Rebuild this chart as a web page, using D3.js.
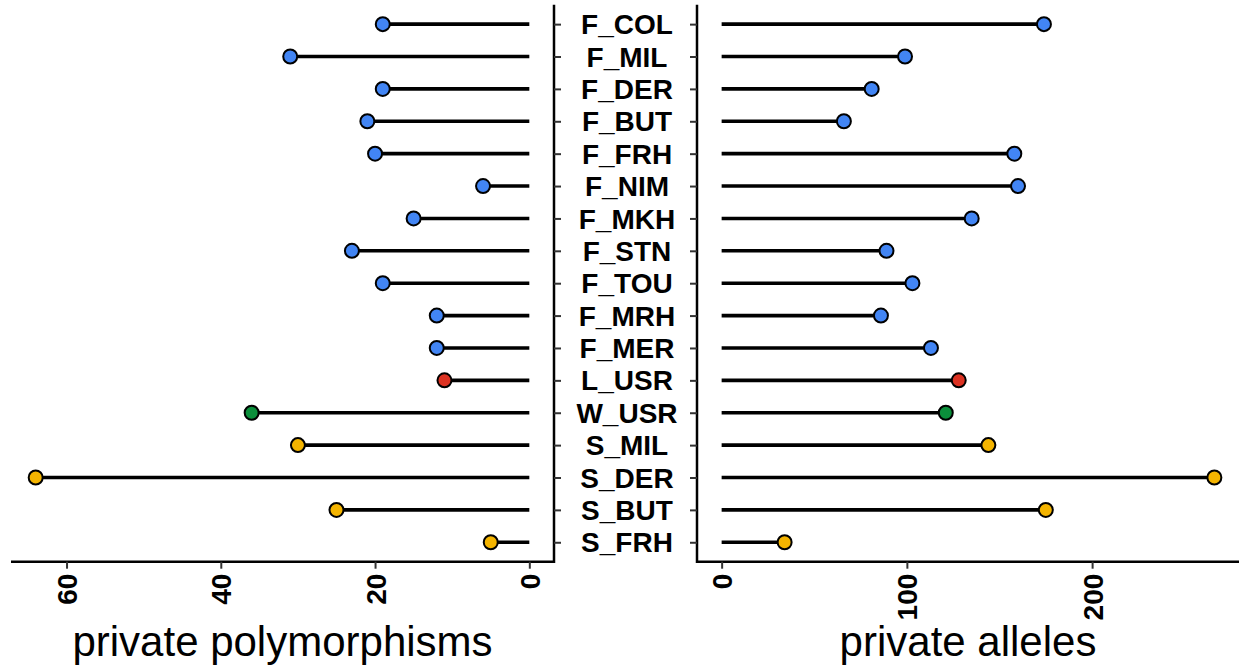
<!DOCTYPE html>
<html>
<head>
<meta charset="utf-8">
<script src="https://cdn.jsdelivr.net/npm/d3@7"></script>
<style>
  body { margin: 0; background: #fff; }
  text { font-family: "Liberation Sans", Arial, sans-serif; }
</style>
</head>
<body>
<div id="chart"></div>
<script>
// populations, top to bottom
var populations = ["F_COL", "F_MIL", "F_DER", "F_BUT", "F_FRH", "F_NIM", "F_MKH", "F_STN", "F_TOU",
  "F_MRH", "F_MER", "L_USR", "W_USR", "S_MIL", "S_DER", "S_BUT", "S_FRH"];
var groups = ["F", "F", "F", "F", "F", "F", "F", "F", "F", "F", "F", "L", "W", "S", "S", "S", "S"];
var polymorphisms = [19, 31, 19, 21, 20, 6, 15, 23, 19, 12, 12, 11, 36, 30, 64, 25, 5];
var alleles = [174, 99, 81, 66, 158, 160, 135, 89, 103, 86, 113, 128, 121, 144, 266, 175, 34];
var polyTicks = [0, 20, 40, 60];
var alleleTicks = [0, 100, 200];

var groupColor = { F: "#4285f4", L: "#dc3222", W: "#0b8f3b", S: "#f4b400" };

var svgWidth = 1239;
var svgHeight = 665;

var svg = d3.select("#chart")
  .append("svg")
  .attr("width", svgWidth)
  .attr("height", svgHeight);

var data = populations.map(function (p, i) {
  return { pop: p, group: groups[i], poly: polymorphisms[i], alle: alleles[i] };
});

// panel geometry
var panelTop = 4.7, panelBottom = 561.7;
var leftPanel = { x0: 11, x1: 554 };
var rightPanel = { x0: 697, x1: 1239 };

// discrete y with ggplot-like 0.6 expansion
var n = populations.length;
var step = (panelBottom - panelTop) / (n - 1 + 1.2);
var y = d3.scalePoint()
  .domain(populations)
  .range([panelTop + 0.6 * step, panelBottom - 0.6 * step]);

// x scales with 5% expansion
var polyMax = d3.max(polymorphisms);
var xLeft = d3.scaleLinear()
  .domain([-polyMax * 0.05, polyMax * 1.05])
  .range([leftPanel.x1, leftPanel.x0]);

var alleMax = d3.max(alleles);
var xRight = d3.scaleLinear()
  .domain([-alleMax * 0.05, alleMax * 1.05])
  .range([rightPanel.x0, rightPanel.x1]);

function drawPanel(xs, key, panel, ticks, side, title) {
  var g = svg.append("g");

  // lollipop stems
  g.selectAll("line.stem")
    .data(data)
    .enter()
    .append("line")
    .attr("class", "stem")
    .attr("x1", xs(0))
    .attr("x2", d => xs(d[key]))
    .attr("y1", d => y(d.pop))
    .attr("y2", d => y(d.pop))
    .attr("stroke", "#000")
    .attr("stroke-width", 3.6);

  // points
  g.selectAll("circle")
    .data(data)
    .enter()
    .append("circle")
    .attr("cx", d => xs(d[key]))
    .attr("cy", d => y(d.pop))
    .attr("r", 7)
    .attr("fill", d => groupColor[d.group])
    .attr("stroke", "#000")
    .attr("stroke-width", 2);

  // bottom axis
  var bottomAxis = d3.axisBottom(xs)
    .tickValues(ticks)
    .tickSize(7)
    .tickSizeOuter(0);

  var ax = g.append("g")
    .attr("transform", `translate(0, ${panelBottom})`)
    .call(bottomAxis);
  ax.select(".domain")
    .attr("d", `M${panel.x0},0H${panel.x1}`)
    .attr("stroke", "#000")
    .attr("stroke-width", 2.5);
  ax.selectAll(".tick line").attr("stroke", "#333").attr("stroke-width", 2);
  ax.selectAll(".tick text")
    .attr("transform", "rotate(-90)")
    .attr("x", -12)
    .attr("y", 0)
    .attr("dy", "0.36em")
    .style("text-anchor", "end")
    .style("font-size", "28px")
    .style("font-weight", "bold")
    .attr("fill", "#000");

  // vertical axis line with ticks
  var vx = side === "left" ? panel.x1 : panel.x0;
  var yAxis = side === "left" ? d3.axisRight(y) : d3.axisLeft(y);
  yAxis.tickSize(7).tickSizeOuter(0).tickFormat("");
  var ay = g.append("g")
    .attr("transform", `translate(${vx}, 0)`)
    .call(yAxis);
  ay.select(".domain")
    .attr("d", `M0,${panelTop}V${panelBottom + 1.2}`)
    .attr("stroke", "#000")
    .attr("stroke-width", 2.5);
  ay.selectAll(".tick line").attr("stroke", "#333").attr("stroke-width", 2);

  // axis title
  g.append("text")
    .attr("x", (panel.x0 + panel.x1) / 2)
    .attr("y", 656)
    .style("text-anchor", "middle")
    .style("font-size", "42px")
    .attr("fill", "#000")
    .text(title);
}

drawPanel(xLeft, "poly", leftPanel, polyTicks, "left", "private polymorphisms");
drawPanel(xRight, "alle", rightPanel, alleleTicks, "right", "private alleles");

// population labels between the panels
svg.append("g")
  .selectAll("text")
  .data(populations)
  .enter()
  .append("text")
  .attr("x", 627)
  .attr("y", d => y(d))
  .attr("dy", "0.36em")
  .style("text-anchor", "middle")
  .style("font-size", "28px")
  .style("font-weight", "bold")
  .attr("fill", "#000")
  .text(d => d);
</script>
</body>
</html>
